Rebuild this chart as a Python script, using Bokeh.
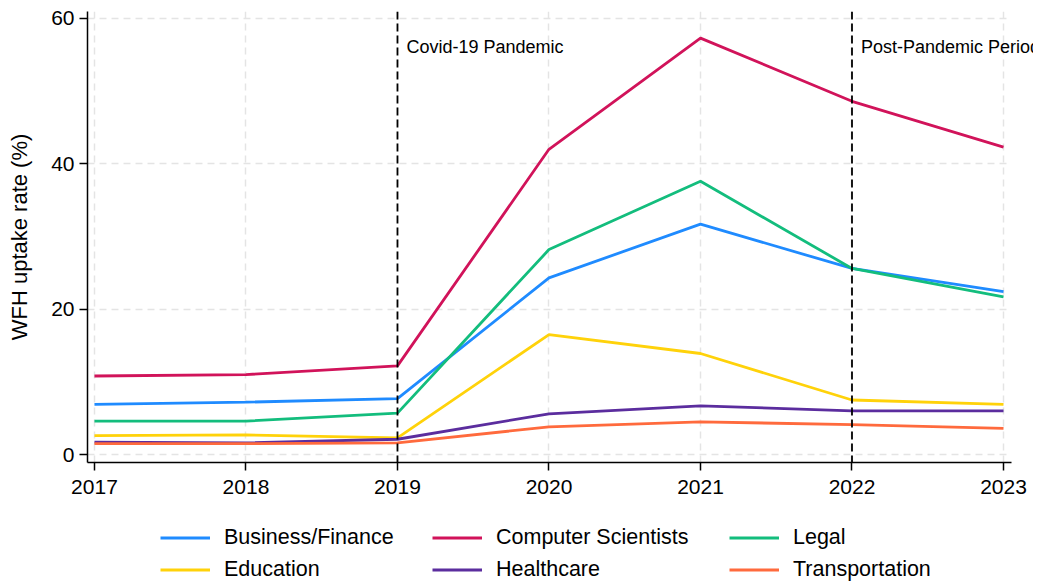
from bokeh.plotting import figure
from bokeh.models import Legend, LegendItem, Span, Label, Range1d, FixedTicker, Grid
from bokeh.layouts import column
from bokeh.embed import file_html
from bokeh.resources import INLINE

years = [2017, 2018, 2019, 2020, 2021, 2022, 2023]
business_finance = [6.9, 7.2, 7.7, 24.3, 31.7, 25.6, 22.4]
computer_scientists = [10.8, 11.0, 12.2, 42.0, 57.3, 48.6, 42.3]
legal = [4.6, 4.6, 5.7, 28.2, 37.6, 25.6, 21.7]
education = [2.6, 2.7, 2.3, 16.5, 13.9, 7.5, 6.9]
healthcare = [1.7, 1.6, 2.1, 5.6, 6.7, 6.0, 6.0]
transportation = [1.5, 1.5, 1.6, 3.8, 4.5, 4.1, 3.6]

series_names = ["Business/Finance", "Computer Scientists", "Legal",
                "Education", "Healthcare", "Transportation"]
series_values = [business_finance, computer_scientists, legal,
                 education, healthcare, transportation]
colors = ["#1f8bff", "#d1135a", "#13bd7d", "#ffd20a", "#5b2d9e", "#ff6a3d"]

event_years = [2019, 2022]
event_labels = ["Covid-19 Pandemic", "Post-Pandemic Period"]
y_ticks = [0, 20, 40, 60]

FONT = "Liberation Sans"
X0, X1, XAX = 2016.954, 2023.198, 2023.053
LEFT = 87

p = figure(width=1033, height=510, output_backend="svg", toolbar_location=None,
           x_range=Range1d(X0, X1), y_range=Range1d(-1.10, 60.96),
           min_border_left=LEFT, min_border_right=0, min_border_top=11,
           min_border_bottom=48)
p.outline_line_color = None

for ax in (p.xaxis[0], p.yaxis[0]):
    ax.axis_line_color = "black"
    ax.axis_line_width = 1.5
    ax.major_tick_line_color = "black"
    ax.major_tick_line_width = 1.5
    ax.major_tick_in = 0
    ax.major_tick_out = 8
    ax.minor_tick_line_color = None
    ax.major_label_text_font = FONT
    ax.major_label_text_font_size = "21px"
    ax.major_label_text_color = "black"

p.xaxis.ticker = FixedTicker(ticks=years)
p.yaxis.ticker = FixedTicker(ticks=y_ticks)
p.xaxis.bounds = (X0, XAX)
p.xaxis.major_label_standoff = 9
p.yaxis.major_label_standoff = 5
p.yaxis.axis_label = "WFH uptake rate (%)"
p.yaxis.axis_label_text_font = FONT
p.yaxis.axis_label_text_font_size = "22px"
p.yaxis.axis_label_text_font_style = "normal"
p.yaxis.axis_label_text_color = "black"
p.yaxis.axis_label_standoff = 16

for g in (p.xgrid[0], p.ygrid[0]):
    g.grid_line_color = "#e4e4e4"
    g.grid_line_dash = "7 5"
    g.grid_line_width = 1.5
if "cross_bounds" in Grid.properties():
    p.ygrid[0].cross_bounds = (X0, XAX)

renderers = []
for name, vals, c in zip(series_names, series_values, colors):
    r = p.line(years, vals, line_color=c, line_width=2.8)
    renderers.append(r)

for yr, txt in zip(event_years, event_labels):
    p.add_layout(Span(location=yr, dimension="height", line_color="black",
                      line_width=1.8, line_dash="8 4"))
    p.add_layout(Label(x=yr, y=56.1, text=txt, x_offset=9,
                       text_baseline="middle", text_font=FONT,
                       text_font_size="18px", text_color="black"))

# legend panel below the chart (series drawn again, outside its visible range,
# only so that the legend has line glyphs to show)
p2 = figure(width=1033, height=76, output_backend="svg", toolbar_location=None,
            x_axis_location=None, y_axis_location=None,
            min_border_left=LEFT, min_border_right=0, min_border_top=0,
            min_border_bottom=0, x_range=Range1d(0, 1), y_range=Range1d(0, 1))
p2.outline_line_color = None
p2.grid.visible = False
leg_renderers = [p2.line(years, vals, line_color=c, line_width=2.8)
                 for vals, c in zip(series_values, colors)]

col_x = [160, 432, 729]
for ci in range(3):
    items = [LegendItem(label=series_names[ci], renderers=[leg_renderers[ci]]),
             LegendItem(label=series_names[ci + 3], renderers=[leg_renderers[ci + 3]])]
    lg = Legend(items=items, location=(col_x[ci] - LEFT, 4), orientation="vertical",
                glyph_width=50, glyph_height=21, label_standoff=14,
                label_text_font=FONT, label_text_font_size="21.5px",
                label_text_color="black",
                label_height=21, spacing=7, padding=0, margin=0,
                border_line_color=None, background_fill_alpha=0)
    p2.add_layout(lg, "center")

layout = column(p, p2, spacing=0)
open("out.html", "w").write(file_html(layout, INLINE))
